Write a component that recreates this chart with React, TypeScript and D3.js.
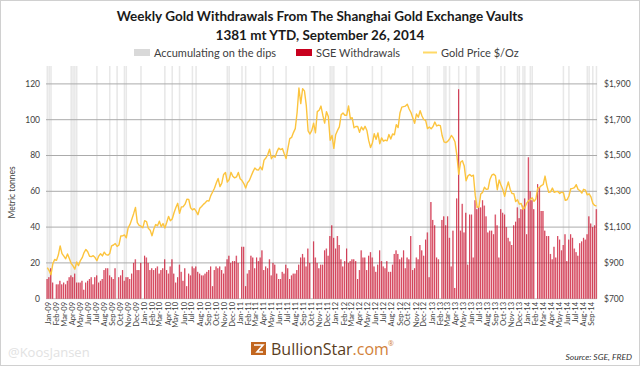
import React from 'react';
import * as d3 from 'd3';

// Weekly SGE withdrawals (metric tonnes), Fridays Jan 2 2009 .. Sep 26 2014
const sge2009 = [11, 12, 17, 9, 0, 8, 8, 10, 8, 9, 8, 10, 12, 13, 12, 14, 9, 9, 9, 10, 5, 9, 10, 11, 12, 8, 12, 13, 9, 10, 11, 16, 17, 17, 13, 12, 11, 17, 0, 12, 13, 16, 10, 12, 12, 11, 14, 20, 22, 16, 16, 20];
const sge2010 = [0, 24, 23, 20, 16, 17, 16, 17, 18, 14, 16, 17, 22, 16, 14, 18, 22, 14, 9, 12, 19, 15, 10, 17, 7, 14, 13, 18, 17, 18, 15, 14, 13, 13, 14, 15, 16, 18, 7, 16, 18, 17, 18, 16, 14, 18, 22, 24, 20, 21, 21, 24, 20];
const sge2011 = [0, 29, 29, 7, 14, 16, 24, 23, 17, 23, 21, 23, 27, 16, 18, 17, 22, 13, 20, 19, 14, 11, 11, 15, 14, 19, 17, 11, 13, 14, 14, 16, 19, 23, 25, 23, 18, 28, 20, 0, 32, 23, 20, 17, 19, 19, 27, 28, 24, 35, 41, 34];
const sge2012 = [28, 35, 30, 22, 18, 21, 28, 20, 21, 22, 22, 21, 11, 16, 27, 23, 23, 16, 24, 26, 23, 18, 15, 19, 27, 21, 18, 17, 21, 15, 15, 19, 25, 27, 25, 22, 23, 27, 17, 23, 22, 35, 16, 17, 23, 22, 30, 27, 24, 33, 37, 12];
const sge2013 = [54, 44, 41, 23, 22, 0, 44, 46, 41, 46, 34, 18, 38, 6, 56, 117, 38, 53, 37, 48, 19, 47, 47, 23, 55, 50, 51, 51, 55, 52, 46, 37, 38, 38, 36, 47, 41, 23, 50, 48, 47, 40, 34, 32, 30, 41, 43, 51, 45, 50, 52, 56];
const sge2014 = [36, 79, 60, 55, 50, 0, 64, 62, 49, 49, 38, 35, 35, 25, 22, 29, 23, 35, 33, 27, 30, 36, 21, 33, 36, 34, 28, 26, 24, 31, 32, 34, 33, 36, 46, 42, 40, 41, 50];

// Weekly gold price ($/oz)
const gold2009 = [874, 857, 834, 895, 919, 914, 944, 995, 952, 938, 923, 950, 924, 897, 883, 865, 905, 885, 913, 929, 958, 975, 962, 937, 935, 940, 930, 912, 938, 951, 939, 960, 946, 943, 953, 995, 1000, 1008, 992, 1000, 1050, 1051, 1056, 1040, 1095, 1115, 1144, 1175, 1210, 1125, 1110, 1105];
const gold2010 = [1096, 1136, 1131, 1093, 1083, 1052, 1089, 1114, 1108, 1133, 1103, 1120, 1095, 1126, 1160, 1136, 1145, 1180, 1209, 1233, 1177, 1213, 1214, 1228, 1256, 1255, 1208, 1196, 1203, 1189, 1169, 1205, 1215, 1227, 1236, 1248, 1245, 1276, 1296, 1317, 1346, 1372, 1326, 1346, 1394, 1405, 1352, 1365, 1406, 1384, 1375, 1380, 1405];
const gold2011 = [1370, 1360, 1343, 1318, 1348, 1360, 1385, 1410, 1430, 1420, 1419, 1437, 1420, 1474, 1486, 1504, 1535, 1482, 1497, 1490, 1520, 1541, 1533, 1539, 1510, 1483, 1540, 1594, 1601, 1628, 1650, 1740, 1877, 1790, 1873, 1861, 1780, 1637, 1620, 1640, 1680, 1627, 1745, 1753, 1776, 1725, 1681, 1745, 1718, 1585, 1612, 1540];
const gold2012 = [1616, 1640, 1660, 1727, 1737, 1725, 1725, 1777, 1706, 1711, 1655, 1662, 1662, 1630, 1660, 1643, 1663, 1640, 1583, 1545, 1570, 1622, 1590, 1626, 1566, 1598, 1580, 1586, 1582, 1617, 1592, 1620, 1616, 1672, 1656, 1737, 1770, 1773, 1776, 1786, 1760, 1740, 1710, 1680, 1732, 1714, 1750, 1721, 1700, 1696, 1650, 1659];
const gold2013 = [1649, 1662, 1687, 1665, 1670, 1667, 1610, 1576, 1572, 1579, 1592, 1612, 1598, 1575, 1501, 1395, 1462, 1471, 1441, 1359, 1386, 1394, 1384, 1390, 1277, 1210, 1213, 1285, 1294, 1323, 1311, 1313, 1366, 1390, 1396, 1387, 1309, 1363, 1335, 1310, 1272, 1317, 1352, 1312, 1288, 1287, 1243, 1253, 1228, 1232, 1200, 1210];
const gold2014 = [1234, 1247, 1254, 1264, 1244, 1257, 1318, 1321, 1332, 1338, 1385, 1332, 1294, 1297, 1318, 1294, 1298, 1299, 1288, 1295, 1292, 1250, 1253, 1274, 1314, 1316, 1320, 1337, 1310, 1304, 1290, 1311, 1306, 1280, 1286, 1269, 1233, 1221, 1218];

// Week numbers (0 = Jan 2 2009) marked "Accumulating on the dips"
const dipWeeks = [0, 1, 2, 13, 14, 15, 16, 27, 34, 38, 42, 43, 51, 64, 68, 72, 79, 81, 98, 99, 106, 108, 116, 123, 130, 143, 145, 154, 155, 156, 163, 177, 182, 199, 207, 208, 216, 217, 219, 224, 228, 234, 235, 247, 249, 256, 257, 259, 260, 263, 264, 281, 284, 294, 295, 297, 299];

const leftTicks = [0, 20, 40, 60, 80, 100, 120];
const rightTicks = [700, 900, 1100, 1300, 1500, 1700, 1900];

const sge = [...sge2009, ...sge2010, ...sge2011, ...sge2012, ...sge2013, ...sge2014];
const gold = [...gold2009, ...gold2010, ...gold2011, ...gold2012, ...gold2013, ...gold2014];

export default function App() {
  const W = 640, H = 366;
  const left = 46, right = 597, top = 66, bottom = 298.7;
  const weeks = d3.timeFriday.range(new Date(2009, 0, 2), new Date(2014, 8, 27));
  const x = d3.scaleTime().domain([new Date(2008, 11, 28), new Date(2014, 8, 28)]).range([left, right]);
  const y = d3.scaleLinear().domain([0, 130]).range([bottom, top]);
  const yR = d3.scaleLinear().domain([700, 2000]).range([bottom, top]);
  const months = d3.timeMonth.range(new Date(2009, 0, 1), new Date(2014, 8, 2));
  const step = x(weeks[1]) - x(weeks[0]);
  const bw = step * 0.72;
  const fmtM = d3.timeFormat('%b-%y');
  const fmtR = d3.format('$,');
  const line = d3.line<number>().x((_, i) => x(weeks[i])).y(d => yR(d));
  const font = 'Lato, "Open Sans", sans-serif';
  const n = Math.min(weeks.length, sge.length);

  return (
    <svg width={W} height={H} style={{ position: 'absolute', left: 0, top: 0, background: '#fff' }} fontFamily={font}>
      <rect x={0.5} y={0.5} width={W - 1} height={H - 1} fill="#fff" stroke="#d0d0d0" />
      <text x={320} y={21} textAnchor="middle" fontSize={13.5} fontWeight={700} fill="#1a1a1a">Weekly Gold Withdrawals From The Shanghai Gold Exchange Vaults</text>
      <text x={320} y={40} textAnchor="middle" fontSize={13.5} fontWeight={700} fill="#1a1a1a">1381 mt YTD, September 26, 2014</text>

      {/* legend */}
      <rect x={134} y={49} width={16} height={7} fill="#d9d9d9" />
      <text x={154} y={56.5} fontSize={11} fill="#404040">Accumulating on the dips</text>
      <rect x={296} y={49} width={16} height={7} fill="#c8001e" />
      <text x={316} y={56.5} fontSize={11} fill="#404040">SGE Withdrawals</text>
      <line x1={423} x2={437} y1={52.5} y2={52.5} stroke="#ffd966" strokeWidth={2} />
      <text x={441} y={56.5} fontSize={11} fill="#404040">Gold Price $/Oz</text>

      {/* dip bands */}
      {dipWeeks.map(k => (
        <rect key={'b' + k} x={x(weeks[k]) - step * 0.42} y={top} width={step * 0.84} height={bottom - top} fill="#e8e8e8" />
      ))}

      {/* gridlines */}
      {leftTicks.filter(t => t > 0).map(t => (
        <line key={'g' + t} x1={left} x2={right} y1={y(t)} y2={y(t)} stroke="#ababab" strokeWidth={1} />
      ))}
      <line x1={left} x2={right} y1={bottom} y2={bottom} stroke="#c8c8c8" strokeWidth={1} />

      {/* bars */}
      {sge.slice(0, n).map((v, i) => (
        <g key={'s' + i}>
          <rect x={x(weeks[i]) - bw / 2} y={y(v)} width={bw} height={bottom - y(v)} fill="#d0213d" fillOpacity={0.48} />
          <rect x={x(weeks[i]) - bw / 2} y={y(v)} width={0.6} height={bottom - y(v)} fill="#c8102e" />
        </g>
      ))}

      {/* gold line */}
      <path d={line(gold) || ''} fill="none" stroke="#fcc43e" strokeWidth={1.4} strokeLinejoin="round" />

      {/* left axis */}
      {leftTicks.map(t => (
        <text key={'l' + t} x={40} y={y(t)} dy="0.35em" textAnchor="end" fontSize={8.5} fill="#404040">{t}</text>
      ))}
      <text transform={`translate(15,${(top + bottom) / 2 + 10}) rotate(-90)`} textAnchor="middle" fontSize={8.5} fill="#404040">Metric tonnes</text>

      {/* right axis */}
      {rightTicks.map(t => (
        <text key={'r' + t} x={604} y={yR(t)} dy="0.35em" fontSize={8.5} fill="#404040">{fmtR(t)}</text>
      ))}

      {/* x axis labels */}
      {months.map((m, i) => (
        <text key={'m' + i} transform={`translate(${x(m) + 1.5},302) rotate(-90)`} dy="0.35em" textAnchor="end" fontSize={7.5} fill="#404040">{fmtM(m)}</text>
      ))}

      {/* footer */}
      <text x={8} y={357} fontSize={13} fill="#e2e2e2" fontFamily='"Open Sans", sans-serif'>@KoosJansen</text>
      <rect x={251} y={342} width={15} height={13} fill="#c2661f" />
      <path d="M254 345 L263 345 L257 352 L263 352" fill="none" stroke="#fff" strokeWidth={1.6} />
      <text x={271} y={355} fontSize={16} fontFamily='"Open Sans", sans-serif'>
        <tspan fill="#5a3d22">BullionStar</tspan><tspan fill="#d2823a">.com</tspan>
      </text>
      <text x={388} y={346} fontSize={7} fill="#d2823a" fontFamily='"Open Sans", sans-serif'>®</text>
      <text x={632} y={360} textAnchor="end" fontSize={8.5} fontStyle="italic" fill="#333">Source: SGE, FRED</text>
    </svg>
  );
}
